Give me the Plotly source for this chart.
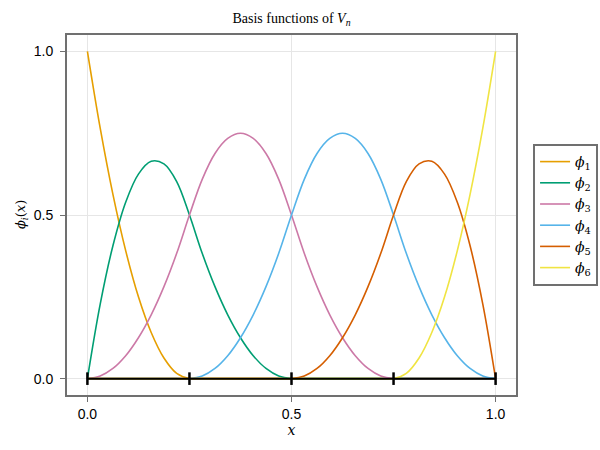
"""
Basis functions of V_n (quadratic B-splines on 4 elements)
"""
import plotly.graph_objects as go

# sample positions along [0, 1]
x_pts = [0.0, 0.03125, 0.0625, 0.09375, 0.125, 0.15625, 0.1875, 0.21875,
         0.25, 0.28125, 0.3125, 0.34375, 0.375, 0.40625, 0.4375, 0.46875,
         0.5, 0.53125, 0.5625, 0.59375, 0.625, 0.65625, 0.6875, 0.71875,
         0.75, 0.78125, 0.8125, 0.84375, 0.875, 0.90625, 0.9375, 0.96875, 1.0]

phi_1 = [1.000, 0.766, 0.563, 0.391, 0.250, 0.141, 0.063, 0.016, 0.0,
         0, 0, 0, 0, 0, 0, 0, 0, 0, 0, 0, 0, 0, 0, 0, 0, 0, 0, 0, 0, 0, 0, 0, 0]
phi_2 = [0.0, 0.227, 0.406, 0.539, 0.625, 0.664, 0.656, 0.602, 0.500,
         0.383, 0.281, 0.195, 0.125, 0.070, 0.031, 0.008, 0.0,
         0, 0, 0, 0, 0, 0, 0, 0, 0, 0, 0, 0, 0, 0, 0, 0]
phi_3 = [0.0, 0.008, 0.031, 0.070, 0.125, 0.195, 0.281, 0.383, 0.500,
         0.609, 0.688, 0.734, 0.750, 0.734, 0.688, 0.609, 0.500,
         0.383, 0.281, 0.195, 0.125, 0.070, 0.031, 0.008, 0.0,
         0, 0, 0, 0, 0, 0, 0, 0]
phi_4 = [0, 0, 0, 0, 0, 0, 0, 0,
         0.0, 0.008, 0.031, 0.070, 0.125, 0.195, 0.281, 0.383, 0.500,
         0.609, 0.688, 0.734, 0.750, 0.734, 0.688, 0.609, 0.500,
         0.383, 0.281, 0.195, 0.125, 0.070, 0.031, 0.008, 0.0]
phi_5 = [0, 0, 0, 0, 0, 0, 0, 0, 0, 0, 0, 0, 0, 0, 0, 0,
         0.0, 0.008, 0.031, 0.070, 0.125, 0.195, 0.281, 0.383, 0.500,
         0.602, 0.656, 0.664, 0.625, 0.539, 0.406, 0.227, 0.0]
phi_6 = [0, 0, 0, 0, 0, 0, 0, 0, 0, 0, 0, 0, 0, 0, 0, 0, 0, 0, 0, 0, 0, 0, 0, 0,
         0.0, 0.016, 0.063, 0.141, 0.250, 0.391, 0.563, 0.766, 1.000]

series = [phi_1, phi_2, phi_3, phi_4, phi_5, phi_6]
names = ["<i>ϕ</i><sub>%d</sub>" % i for i in range(1, 7)]
colors = ["#E69F00", "#009E73", "#CC79A7", "#56B4E9", "#D55E00", "#F0E442"]

# mesh nodes
knots = [0.0, 0.25, 0.5, 0.75, 1.0]
knot_y = [0, 0, 0, 0, 0]

tick_vals = [0.0, 0.5, 1.0]
tick_text = ["0.0", "0.5", "1.0"]

serif = "DejaVu Serif"
sans = "Liberation Sans"

fig = go.Figure()
for ys, nm, c in zip(series, names, colors):
    fig.add_trace(go.Scatter(
        x=x_pts, y=ys, mode="lines", name=nm,
        line=dict(color=c, width=1.6, shape="spline", smoothing=1),
    ))

# mesh line with knot markers
fig.add_trace(go.Scatter(
    x=knots, y=knot_y, mode="lines+markers", showlegend=False,
    line=dict(color="black", width=2),
    marker=dict(symbol="line-ns", size=9, line=dict(color="black", width=2.5)),
))

axis_common = dict(
    showgrid=True, gridcolor="#e6e6e6", gridwidth=1,
    zeroline=False, automargin=False,
    showline=True, mirror=True, linecolor="#707070", linewidth=2,
    ticks="outside", ticklen=5, tickwidth=1, tickcolor="#707070",
    tickfont=dict(family=sans, size=14, color="black"),
    tickvals=tick_vals, ticktext=tick_text,
)

fig.update_layout(
    width=600, height=450,
    plot_bgcolor="white", paper_bgcolor="white",
    margin=dict(l=67, r=84, t=35, b=55, autoexpand=False),
    title=dict(text="Basis functions of <i>V</i><sub><i>n</i></sub>",
               font=dict(family="Liberation Serif", size=14, color="black"),
               x=(67 + 516) / 2 / 600, xanchor="center", y=0.96, yanchor="middle"),
    xaxis=dict(range=[-0.05, 1.05],
               title=dict(text="<i>x</i>", font=dict(family=serif, size=14, color="black"),
                          standoff=4),
               **axis_common),
    yaxis=dict(range=[-0.05, 1.05], ticklabelstandoff=4, **axis_common),
    legend=dict(x=1.038, xanchor="left", y=0.5, yanchor="middle",
                bordercolor="#707070", borderwidth=2, bgcolor="white",
                font=dict(family=serif, size=14, color="black"),
                itemwidth=30, tracegroupgap=0),
)

# y label placed by hand so it sits where the reference has it
fig.add_annotation(
    text="<i>ϕ</i><sub><i>i</i></sub>(<i>x</i>)", textangle=-90,
    xref="paper", yref="paper", x=(21 - 67) / 449, y=0.5,
    xanchor="center", yanchor="middle", showarrow=False,
    font=dict(family=serif, size=13, color="black"),
)

fig.write_html("out.html", config={"displayModeBar": False},
               post_script="document.body.style.margin='0';")
